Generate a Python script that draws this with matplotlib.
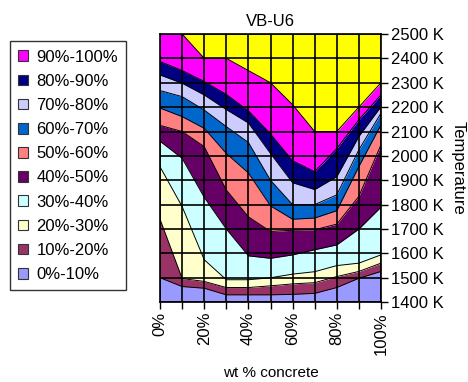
import matplotlib
matplotlib.use("Agg")
from matplotlib import pyplot as plt
from matplotlib.patches import Patch
from matplotlib.ticker import MultipleLocator, FuncFormatter

plt.rcParams['font.family'] = ['Liberation Sans', 'DejaVu Sans']
plt.rcParams['font.size'] = 12

# composition (wt % concrete)
concrete = [0, 10, 20, 30, 40, 50, 60, 70, 80, 90, 100]

# temperature (K) at which each fraction level is reached, per composition
level_10 = [1500, 1464, 1457, 1430, 1430, 1430, 1432, 1436, 1460, 1498, 1526]
level_20 = [1740, 1497, 1485, 1460, 1460, 1467, 1475, 1480, 1505, 1526, 1560]
level_30 = [1955, 1792, 1574, 1492, 1492, 1500, 1515, 1525, 1550, 1560, 1594]
level_40 = [2060, 1990, 1830, 1700, 1590, 1580, 1594, 1615, 1635, 1700, 1790]
level_50 = [2125, 2100, 2038, 1860, 1750, 1690, 1695, 1697, 1720, 1834, 2045]
level_60 = [2196, 2161, 2113, 2010, 1930, 1795, 1740, 1745, 1775, 1956, 2127]
level_70 = [2268, 2243, 2188, 2120, 2055, 1900, 1800, 1800, 1840, 2025, 2175]
level_80 = [2332, 2298, 2250, 2190, 2135, 2010, 1890, 1862, 1915, 2080, 2202]
level_90 = [2387, 2350, 2305, 2252, 2185, 2090, 1980, 1935, 2030, 2148, 2250]
level_100 = [2600, 2500, 2400, 2400, 2350, 2300, 2210, 2100, 2100, 2200, 2300]

band_labels = ['0%-10%', '10%-20%', '20%-30%', '30%-40%', '40%-50%',
               '50%-60%', '60%-70%', '70%-80%', '80%-90%', '90%-100%']
band_colors = ['#9999FF', '#993366', '#FFFFCC', '#CCFFFF', '#660066',
               '#FF8080', '#0066CC', '#CCCCFF', '#000080', '#FF00FF']
top_color = '#FFFF00'

t_min, t_max = 1400, 2500

fig = plt.figure(figsize=(4.68, 3.82), dpi=100)
ax = fig.add_axes([0.342, 0.209, 0.472, 0.702])

levels = [level_10, level_20, level_30, level_40, level_50,
          level_60, level_70, level_80, level_90, level_100]
floor = [t_min] * len(concrete)
ceiling = [t_max + 200] * len(concrete)

lower = floor
for upper, color in zip(levels, band_colors):
    ax.fill_between(concrete, lower, upper, color=color, lw=0, zorder=1)
    lower = upper
ax.fill_between(concrete, lower, ceiling, color=top_color, lw=0, zorder=1)

# contour lines between bands
for lev in levels:
    ax.plot(concrete, lev, color='black', lw=0.7, zorder=2)

ax.set_xlim(0, 100)
ax.set_ylim(t_min, t_max)

ax.xaxis.set_major_locator(MultipleLocator(10))
ax.xaxis.set_major_formatter(FuncFormatter(lambda v, p: '%d%%' % v if round(v) % 20 == 0 else ''))
ax.yaxis.set_major_locator(MultipleLocator(100))
ax.yaxis.set_major_formatter(FuncFormatter(lambda v, p: '%d K' % v))
ax.yaxis.tick_right()
ax.yaxis.set_label_position('right')
plt.setp(ax.get_xticklabels(), rotation=90)
ax.tick_params(axis='both', direction='out', length=5, width=1, color='black', pad=2)

ax.grid(True, color='black', lw=1.2, zorder=3)
ax.set_axisbelow(False)
for s in ax.spines.values():
    s.set_linewidth(1.2)
    s.set_zorder(4)

ax.set_title('VB-U6', fontsize=12, pad=6)
ax.set_xlabel('wt % concrete', fontsize=11, labelpad=8)
ax.set_ylabel('Temperature', rotation=-90, labelpad=16)

handles = [Patch(facecolor=c, edgecolor='#333333', lw=0.8) for c in band_colors]
leg = fig.legend(handles[::-1], band_labels[::-1], loc='upper left',
                 bbox_to_anchor=(0.021, 0.892), frameon=True, fancybox=False,
                 edgecolor='black', handlelength=0.6, handleheight=0.6,
                 handletextpad=0.5, labelspacing=0.55, borderpad=0.5,
                 borderaxespad=0)
leg.get_frame().set_linewidth(1.0)

fig.savefig('out.png', dpi=100)
